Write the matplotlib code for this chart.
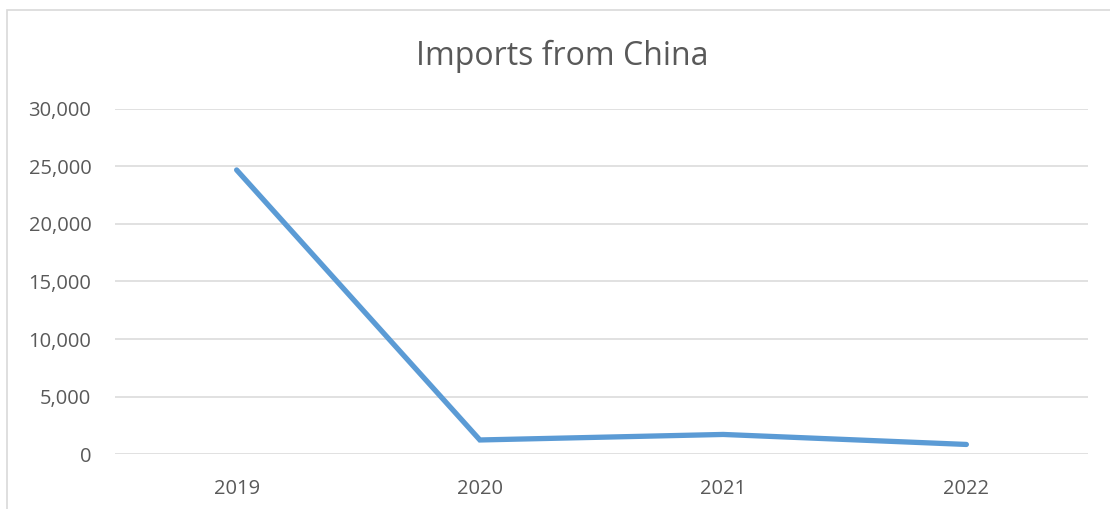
import matplotlib
matplotlib.use("Agg")
import matplotlib.pyplot as plt
from matplotlib.ticker import FuncFormatter
from matplotlib.patches import Rectangle

years = ["2019", "2020", "2021", "2022"]
imports = [24700, 1220, 1700, 830]
y_ticks = [0, 5000, 10000, 15000, 20000, 25000, 30000]

plt.rcParams['font.family'] = ['Open Sans', 'DejaVu Sans']
txt = "#595959"

fig = plt.figure(figsize=(11.1, 5.09), dpi=100)
ax = fig.add_axes([115/1110, 1 - 454/509, (1088-115)/1110, (454-109)/509])

x = list(range(len(years)))
ax.plot(x, imports, color="#5b9bd5", linewidth=3.8, solid_capstyle="round", solid_joinstyle="miter", zorder=3)

ax.set_xlim(-0.5, len(years) - 0.5)
ax.set_ylim(0, 30000)
ax.set_yticks(y_ticks)
ax.yaxis.set_major_formatter(FuncFormatter(lambda v, p: f"{int(v):,}"))
ax.set_xticks(x)
ax.set_xticklabels(years)
ax.grid(axis="y", color="#d9d9d9", linewidth=1.1)
ax.set_axisbelow(True)
for s in ax.spines.values():
    s.set_visible(False)
ax.tick_params(length=0, labelsize=14.5, labelcolor=txt)
ax.tick_params(axis="y", pad=17)
ax.tick_params(axis="x", pad=18)

fig.text(562/1110, 1 - 56/509, "Imports from China", ha="center", va="center", fontsize=23, color=txt)

# chart border (only top and left visible)
fig.patches.append(Rectangle((7/1110, -0.1), 1.2, 1.1 - 10/509, transform=fig.transFigure,
                             fill=False, edgecolor="#d9d9d9", linewidth=1.2))

fig.savefig("out.png", dpi=100)
